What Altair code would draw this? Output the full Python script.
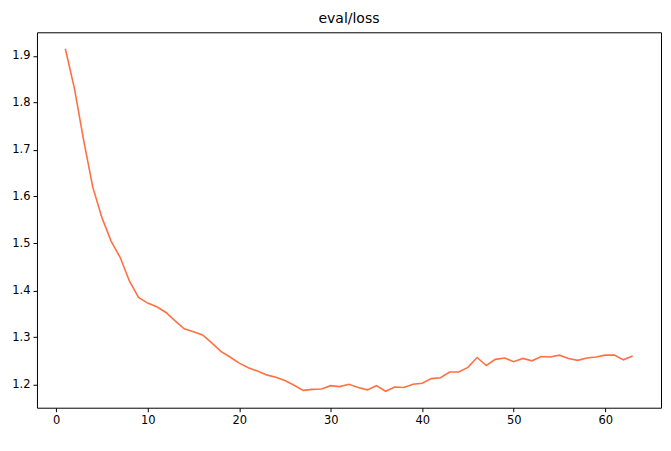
import pandas as pd
import altair as alt

steps = list(range(1, 64))
loss = [1.915, 1.83, 1.72, 1.62, 1.555, 1.505, 1.47, 1.42, 1.385, 1.373,
        1.365, 1.353, 1.335, 1.318, 1.312, 1.305, 1.288, 1.270, 1.258, 1.245,
        1.235, 1.228, 1.220, 1.215, 1.208, 1.198, 1.187, 1.189, 1.190, 1.197,
        1.195, 1.200, 1.193, 1.188, 1.197, 1.185, 1.194, 1.193, 1.200, 1.202,
        1.212, 1.214, 1.226, 1.226, 1.236, 1.257, 1.240, 1.253, 1.256, 1.248,
        1.255, 1.250, 1.259, 1.258, 1.262, 1.255, 1.251, 1.256, 1.258, 1.262,
        1.262, 1.252, 1.260]

df = pd.DataFrame({"step": steps, "loss": loss})

chart = (
    alt.Chart(df)
    .mark_line(color="#FF7043", strokeWidth=1.6, clip=True)
    .encode(
        x=alt.X("step:Q", title=None,
                scale=alt.Scale(domain=[-2.1, 66.1], nice=False, zero=False),
                axis=alt.Axis(values=[0, 10, 20, 30, 40, 50, 60], grid=False)),
        y=alt.Y("loss:Q", title=None,
                scale=alt.Scale(domain=[1.15, 1.95], nice=False, zero=False),
                axis=alt.Axis(values=[1.2, 1.3, 1.4, 1.5, 1.6, 1.7, 1.8, 1.9],
                              format=".1f", grid=False)),
    )
    .properties(
        width=625, height=376,
        title=alt.TitleParams("eval/loss", fontSize=14, fontWeight="normal",
                              font="DejaVu Sans", offset=6),
        autosize=alt.AutoSizeParams(type="none"),
        padding={"left": 29, "top": 24, "right": 2, "bottom": 30},
    )
    .configure_view(stroke="black", strokeWidth=1)
    .configure_axis(labelFont="DejaVu Sans", labelFontSize=11.5, labelColor="black",
                    domainColor="black", tickColor="black", tickSize=4,
                    labelPadding=3, domain=False)
)

chart.save("out.html", embed_options={"renderer": "svg", "actions": False})
